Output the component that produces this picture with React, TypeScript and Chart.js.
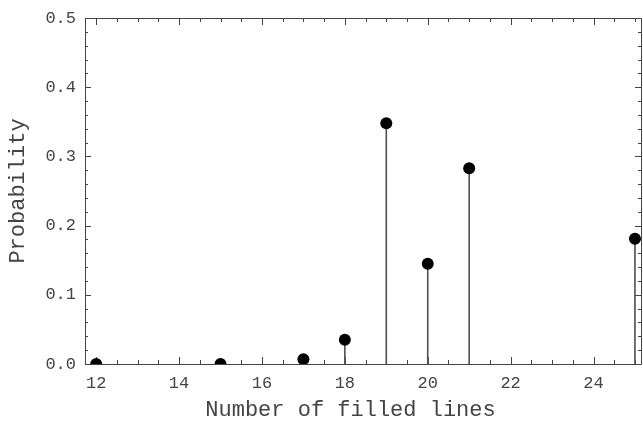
import React, { useEffect, useRef } from 'react';
import { Chart, registerables } from 'chart.js';

Chart.register(...registerables);

const lineCounts = [12, 15, 17, 18, 19, 20, 21, 25];
const probabilities = [0.0, 0.0, 0.007, 0.035, 0.348, 0.145, 0.283, 0.181];
const xTickValues = [12, 14, 16, 18, 20, 22, 24];
const yTickValues = [0, 0.1, 0.2, 0.3, 0.4, 0.5];
const xTitle = 'Number of filled lines';
const yTitle = 'Probability';

const FONT = "'Liberation Mono', 'Courier New', monospace";
const INK = '#444';

const framePlugin = {
  id: 'frame',
  beforeDatasetsDraw(chart: any) {
    const { ctx, chartArea: a, scales } = chart;
    const xs = scales.x;
    const ys = scales.y;
    ctx.save();
    ctx.strokeStyle = INK;
    ctx.lineWidth = 1;
    ctx.beginPath();
    ctx.rect(Math.round(a.left) + 0.5, Math.round(a.top) + 0.5, Math.round(a.right - a.left) - 1, Math.round(a.bottom - a.top));
    ctx.stroke();
    const line = (x1: number, y1: number, x2: number, y2: number) => {
      ctx.beginPath();
      ctx.moveTo(x1, y1);
      ctx.lineTo(x2, y2);
      ctx.stroke();
    };
    const xmin = xs.min, xmax = xs.max;
    for (let v = Math.ceil(xmin * 2) / 2; v <= xmax + 1e-9; v += 0.5) {
      const major = xTickValues.some((t) => Math.abs(t - v) < 1e-6);
      const len = major ? 7 : 4;
      const px = Math.round(xs.getPixelForValue(v)) + 0.5;
      line(px, a.bottom, px, a.bottom - len);
      line(px, a.top, px, a.top + len);
    }
    const ymin = ys.min, ymax = ys.max;
    for (let i = Math.ceil(ymin * 50); i <= Math.floor(ymax * 50 + 1e-6); i++) {
      const v = i / 50;
      const major = i % 5 === 0;
      const len = major ? 6 : 3;
      const py = Math.round(ys.getPixelForValue(v)) + 0.5;
      line(a.left, py, a.left + len, py);
      line(a.right - 1, py, a.right - 1 - len, py);
    }
    // x-axis title (drawn slightly left of the plot centre, as in the reference)
    ctx.fillStyle = INK;
    ctx.font = `22px ${FONT}`;
    ctx.textAlign = 'center';
    ctx.textBaseline = 'middle';
    ctx.fillText(xTitle, (a.left + a.right) / 2 - 13, 410);
    ctx.restore();
  },
};

export default function App() {
  const ref = useRef<HTMLCanvasElement | null>(null);

  useEffect(() => {
    if (!ref.current) return;
    const points = lineCounts.map((x, i) => ({ x, y: probabilities[i] }));
    const chart = new Chart(ref.current, {
      type: 'scatter',
      data: {
        datasets: [
          {
            type: 'bar',
            data: points,
            backgroundColor: '#555',
            borderWidth: 0,
            barThickness: 1,
            order: 2,
          } as any,
          {
            type: 'scatter',
            data: points,
            backgroundColor: '#000',
            borderColor: '#000',
            pointRadius: 6,
            pointHoverRadius: 6,
            borderWidth: 0,
            clip: 0,
            order: 1,
          } as any,
        ],
      },
      options: {
        animation: false,
        responsive: false,
        devicePixelRatio: 1,
        layout: { autoPadding: false, padding: { top: 18, right: 1, left: 0, bottom: 0 } },
        plugins: { legend: { display: false }, tooltip: { enabled: false } },
        scales: {
          x: {
            type: 'linear',
            min: 11.73,
            max: 25.17,
            offset: false,
            grid: { display: false, drawTicks: false },
            border: { display: false },
            afterBuildTicks: (s: any) => {
              s.ticks = xTickValues.map((v) => ({ value: v }));
            },
            afterFit: (s: any) => {
              s.height = 63;
              s.paddingLeft = 0;
              s.paddingRight = 0;
            },
            ticks: {
              padding: 9,
              color: INK,
              font: { family: FONT, size: 17 },
              maxRotation: 0,
              autoSkip: false,
              callback: (v: any) => String(v),
            },
            title: { display: false, text: xTitle },
          },
          y: {
            type: 'linear',
            min: 0,
            max: 0.5,
            grid: { display: false, drawTicks: false },
            border: { display: false },
            afterBuildTicks: (s: any) => {
              s.ticks = yTickValues.map((v) => ({ value: v }));
            },
            afterFit: (s: any) => {
              s.width = 85;
              s.paddingTop = 0;
              s.paddingBottom = 0;
            },
            ticks: {
              padding: 9,
              color: INK,
              font: { family: FONT, size: 17 },
              autoSkip: false,
              callback: (v: any) => Number(v).toFixed(1),
            },
            title: {
              display: true,
              text: yTitle,
              color: INK,
              font: { family: FONT, size: 22 },
              padding: { top: 5, bottom: 0 },
            },
          },
        },
      },
      plugins: [framePlugin],
    });
    return () => chart.destroy();
  }, []);

  return (
    <div style={{ position: 'absolute', left: 0, top: 0, width: 643, height: 427, background: '#fff' }}>
      <canvas ref={ref} width={643} height={427} />
    </div>
  );
}
